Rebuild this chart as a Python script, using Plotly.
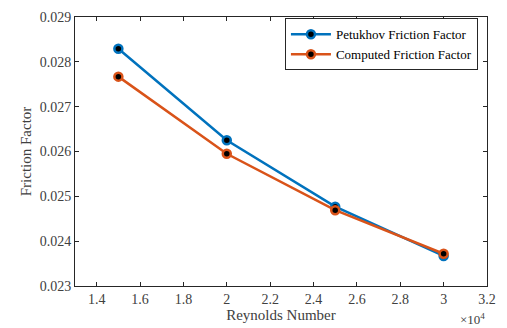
import plotly.graph_objects as go

reynolds = [15000, 20000, 25000, 30000]
petukhov = [0.02829, 0.02625, 0.02477, 0.02367]
computed = [0.02767, 0.02595, 0.02469, 0.02372]

x_tickvals = [14000, 16000, 18000, 20000, 22000, 24000, 26000, 28000, 30000, 32000]
x_ticktext = ["1.4", "1.6", "1.8", "2", "2.2", "2.4", "2.6", "2.8", "3", "3.2"]
y_tickvals = [0.023, 0.024, 0.025, 0.026, 0.027, 0.028, 0.029]
y_ticktext = ["0.023", "0.024", "0.025", "0.026", "0.027", "0.028", "0.029"]

FONT = "Liberation Serif, Times New Roman, serif"
AX = "#262626"
TXT = "#404040"

fig = go.Figure()
fig.add_trace(go.Scatter(
    x=reynolds, y=petukhov, mode="lines+markers", name="Petukhov Friction Factor",
    line=dict(color="#0072BD", width=2.5),
    marker=dict(symbol="circle", size=8, color="black", line=dict(color="#0072BD", width=2.5)),
))
fig.add_trace(go.Scatter(
    x=reynolds, y=computed, mode="lines+markers", name="Computed Friction Factor",
    line=dict(color="#D95319", width=2.5),
    marker=dict(symbol="circle", size=8, color="black", line=dict(color="#D95319", width=2.5)),
))

fig.update_layout(
    width=507, height=328,
    margin=dict(l=75, r=20, t=10, b=42),
    paper_bgcolor="white", plot_bgcolor="white",
    font=dict(family=FONT, size=14, color=TXT),
    showlegend=True,
    legend=dict(
        x=0.978, y=0.995, xanchor="right", yanchor="top",
        bgcolor="white", bordercolor=AX, borderwidth=1,
        font=dict(family=FONT, size=13, color="black"),
        tracegroupgap=0, itemwidth=40,
    ),
)
fig.update_xaxes(
    range=[13000, 32000], tickvals=x_tickvals, ticktext=x_ticktext,
    showgrid=False, zeroline=False, showline=True, linecolor=AX, linewidth=1,
    mirror="ticks", ticks="inside", ticklen=4, tickcolor=AX,
    tickfont=dict(family=FONT, size=14, color=TXT),
    title=dict(text="Reynolds Number", font=dict(family=FONT, size=15, color=TXT), standoff=0),
)
fig.update_yaxes(
    range=[0.023, 0.029], tickvals=y_tickvals, ticktext=y_ticktext,
    showgrid=False, zeroline=False, showline=True, linecolor=AX, linewidth=1,
    mirror="ticks", ticks="inside", ticklen=4, tickcolor=AX,
    tickfont=dict(family=FONT, size=14, color=TXT),
    title=dict(text="Friction Factor", font=dict(family=FONT, size=15, color=TXT), standoff=4),
)
fig.add_annotation(
    x=1.0, y=-0.085, xref="paper", yref="paper", xanchor="right", yanchor="top",
    text="×10<sup>4</sup>", showarrow=False,
    font=dict(family=FONT, size=13, color=TXT),
)

fig.write_html("out.html")
